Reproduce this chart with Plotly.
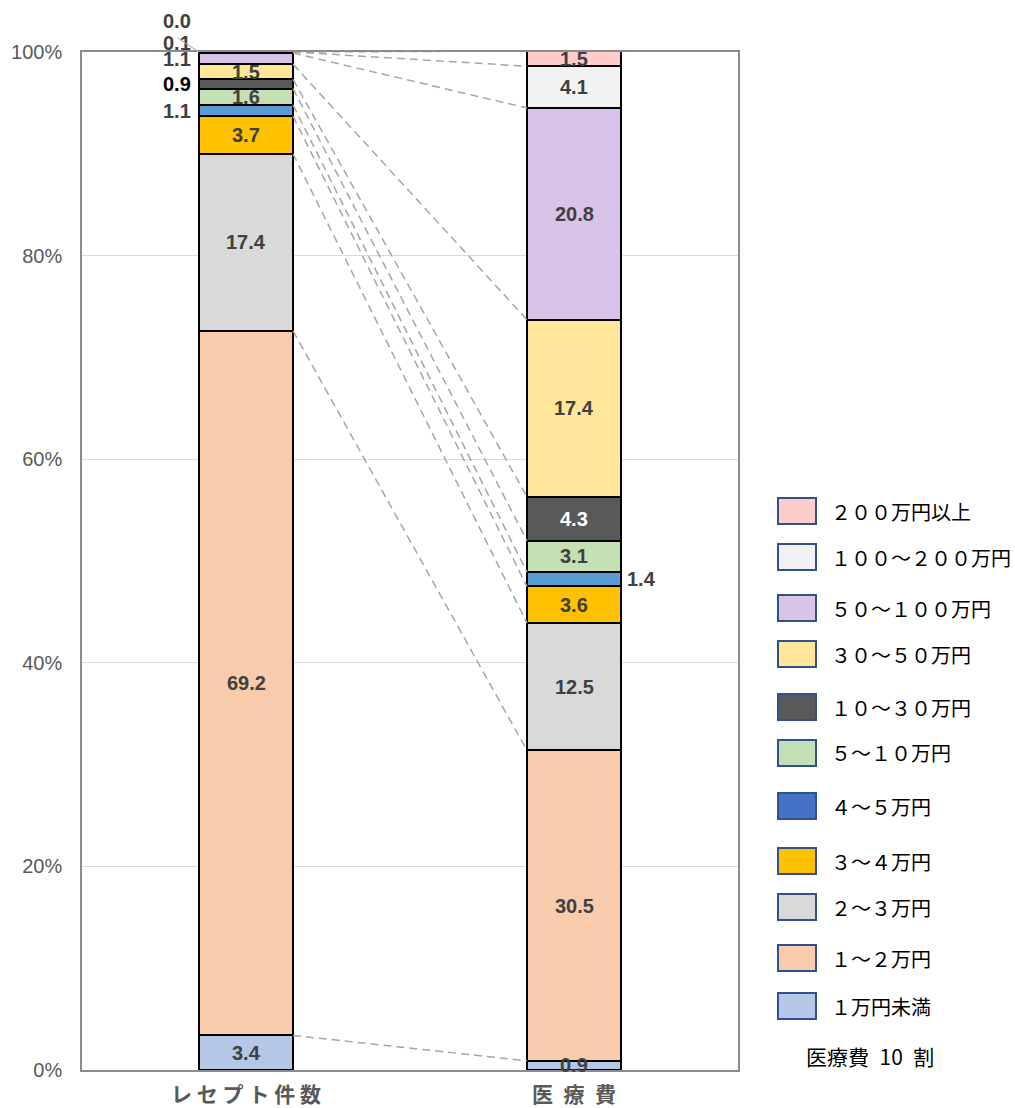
import plotly.graph_objects as go

# ---------------- data ----------------
categories = ["レセプト件数", "医療費"]
series = ["1万円未満", "1～2万円", "2～3万円", "3～4万円", "4～5万円", "5～10万円",
          "10～30万円", "30～50万円", "50～100万円", "100～200万円", "200万円以上"]
legend_labels = ["１万円未満", "１～２万円", "２～３万円", "３～４万円", "４～５万円", "５～１０万円",
                 "１０～３０万円", "３０～５０万円", "５０～１００万円", "１００～２００万円", "２００万円以上"]
receipt_share = [3.4, 69.2, 17.4, 3.7, 1.1, 1.6, 0.9, 1.5, 1.1, 0.1, 0.0]
cost_share = [0.9, 30.5, 12.5, 3.6, 1.4, 3.1, 4.3, 17.4, 20.8, 4.1, 1.5]
y_ticks = [0, 20, 40, 60, 80, 100]
y_tick_labels = ["0%", "20%", "40%", "60%", "80%", "100%"]
legend_note = "医療費 10 割"

# ---------------- styles ----------------
bar_colors = ["#B4C7E7", "#F8CBAD", "#D9D9D9", "#FFC000", "#5B9BD5", "#C5E0B4",
              "#595959", "#FFE699", "#D9C3E9", "#F2F2F2", "#FFCCCC"]
legend_colors = list(bar_colors)
legend_colors[4] = "#4472C4"

W, H = 1015, 1108
ML, MR, MT, MB = 82, 277, 52, 38
PW, PH = W - ML - MR, H - MT - MB
BAR_W = 94 / (PW / 2)
NUM_FONT = "Liberation Sans, Arial, sans-serif"
JP_FONT = "Noto Sans CJK JP, sans-serif"
LABEL_COLOR = "#404040"


def spaced(text, gap):
    """Letter-spaced rendering of a label (same characters, wider tracking)."""
    return gap.join(list(text))


def px_x(px):
    return (px - ML) / PW


def px_y(py):
    return (H - MB - py) / PH


fig = go.Figure()

for i, name in enumerate(series):
    fig.add_trace(go.Bar(
        x=[0, 1], y=[receipt_share[i], cost_share[i]], name=name, width=BAR_W,
        marker=dict(color=bar_colors[i], line=dict(color="#000000", width=2)),
        showlegend=False,
        hovertemplate=name + ": %{y}%<extra></extra>",
    ))


def cumsum(vals):
    out, s = [], 0.0
    for v in vals:
        s += v
        out.append(s)
    return out


cum_l = cumsum(receipt_share)
cum_r = cumsum(cost_share)

for i in range(len(series)):
    fig.add_trace(go.Scatter(
        x=[BAR_W / 2, 1 - BAR_W / 2], y=[cum_l[i], cum_r[i]], mode="lines",
        line=dict(color="#A6A6A6", width=1.5, dash="8px,5px"),
        showlegend=False, hoverinfo="skip",
    ))

# ---------------- data labels ----------------
overrides = {
    (0, 4): ("left", 0, LABEL_COLOR),
    (0, 6): ("left", 0, "#000000"),
    (0, 8): ("left", 0, LABEL_COLOR),
    (0, 9): ("left", 10, LABEL_COLOR),
    (0, 10): ("left", 31, LABEL_COLOR),
    (1, 4): ("right", 0, LABEL_COLOR),
    (1, 6): ("in", 0, "#FFFFFF"),
}

annotations = []
for b, vals in enumerate([receipt_share, cost_share]):
    base = 0.0
    for i, v in enumerate(vals):
        mid = base + v / 2
        base += v
        side, ys, col = overrides.get((b, i), ("in", 0, LABEL_COLOR))
        if side == "in":
            x, xa, xs = b, "center", 0
        elif side == "left":
            x, xa, xs = b - BAR_W / 2, "right", -6
        else:
            x, xa, xs = b + BAR_W / 2, "left", 4
        annotations.append(dict(
            x=x, y=mid, xref="x", yref="y", text=f"{v:.1f}", showarrow=False,
            xanchor=xa, yanchor="middle", xshift=xs, yshift=ys,
            font=dict(family=NUM_FONT, size=20, color=col, weight="bold"),
        ))

# leader line for the 0.1 label
annotations.append(dict(
    x=-BAR_W / 2, y=cum_l[9], xref="x", yref="y", text=" ", showarrow=True,
    arrowhead=0, arrowwidth=1, arrowcolor="#A6A6A6", ax=-23, ay=-15,
    font=dict(size=1),
))

# ---------------- custom legend ----------------
legend_centers = [511, 557, 608, 654, 707, 753, 806, 861, 907, 958, 1006]
shapes = []
for k, cy in enumerate(legend_centers):
    idx = len(series) - 1 - k
    shapes.append(dict(
        type="rect", xref="paper", yref="paper",
        x0=px_x(778), x1=px_x(816), y0=px_y(cy + 13), y1=px_y(cy - 13),
        fillcolor=legend_colors[idx], line=dict(color="#2F528F", width=2),
    ))
    annotations.append(dict(
        x=px_x(829), y=px_y(cy), xref="paper", yref="paper", text=legend_labels[idx],
        showarrow=False, xanchor="left", yanchor="middle",
        font=dict(family=JP_FONT, size=20, color="#000000"),
    ))
annotations.append(dict(
    x=px_x(870), y=px_y(1056), xref="paper", yref="paper",
    text=legend_note.replace(" ", "\u2002"),
    showarrow=False, xanchor="center", yanchor="middle",
    font=dict(family=JP_FONT, size=21, color="#000000"),
))

tick_text = [spaced(categories[0], " "), spaced(categories[1], "\u2002")]

fig.update_layout(
    width=W, height=H, margin=dict(l=ML, r=MR, t=MT, b=MB, autoexpand=False),
    barmode="stack", paper_bgcolor="#FFFFFF", plot_bgcolor="#FFFFFF",
    showlegend=False, annotations=annotations, shapes=shapes,
    xaxis=dict(
        range=[-0.5, 1.5], tickvals=[0, 1], ticktext=tick_text, showgrid=False,
        zeroline=False, showline=True, mirror=True, linecolor="#8C8C8C", linewidth=1.5,
        ticks="", ticklabelstandoff=5, automargin=False,
        tickfont=dict(family=JP_FONT, size=21, color="#595959", weight="bold"),
    ),
    yaxis=dict(
        range=[0, 100], tickvals=y_ticks, ticktext=y_tick_labels, showgrid=True,
        gridcolor="#D9D9D9", gridwidth=1, zeroline=False, showline=True, mirror=True,
        linecolor="#8C8C8C", linewidth=1.5, ticks="", ticklabelstandoff=14, automargin=False,
        tickfont=dict(family=NUM_FONT, size=20, color="#595959"),
    ),
)

fig.write_html("out.html")
